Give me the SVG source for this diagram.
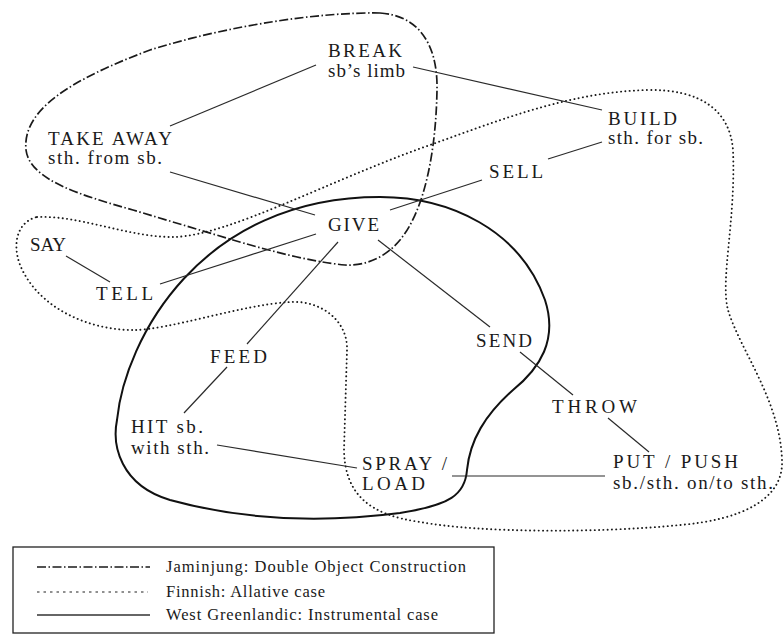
<svg xmlns="http://www.w3.org/2000/svg" width="783" height="635" viewBox="0 0 783 635">
<style>
  .lbl { font-family: "Liberation Serif", "Times New Roman", serif; font-size: 19px; fill: #1a1a1a; }
  .leg { font-family: "Liberation Serif", "Times New Roman", serif; font-size: 16.5px; fill: #1a1a1a; }
  .edge { stroke: #2a2a2a; stroke-width: 1.2; fill: none; }
  .jam { fill: none; stroke: #1a1a1a; stroke-width: 1.7; stroke-dasharray: 9 2.5 1.5 2.5; }
  .fin { fill: none; stroke: #1a1a1a; stroke-width: 1.9; stroke-dasharray: 0.1 4.2; stroke-linecap: round; }
  .wg { fill: none; stroke: #111; stroke-width: 2; }
</style>
<rect x="0" y="0" width="783" height="635" fill="#ffffff"/>

<g id="regions">
  <path id="region-jaminjung" class="jam" d="M 380,13 C 415,15 438,40 437,90 C 436,150 425,210 400,240 C 385,258 365,266 345,265 C 310,262 260,248 233,240 L 133,210 C 80,195 30,180 26,150 C 22,110 70,80 150,50 C 230,25 320,12 380,13 Z"/>
  <path id="region-finnish" class="fin" d="M 37,217 C 80,215 130,238 175,237 C 230,235 330,180 430,145 C 500,120 570,92 647,90 C 700,89 730,110 733,150 C 736,220 720,280 728,310 C 740,350 780,400 782,460 C 784,500 740,520 680,525 C 600,533 480,533 420,522 C 370,515 345,495 344,450 L 347,350 C 348,320 320,300 290,302 C 240,305 170,330 133,330 C 90,330 45,310 25,275 C 10,250 15,222 37,217 Z"/>
  <path id="region-westgreenlandic" class="wg" d="M 380,197 C 450,197 520,230 545,300 C 558,340 540,368 513,390 C 485,415 470,440 467,470 C 465,495 450,505 400,513 C 330,522 250,522 170,500 C 120,485 112,445 117,420 C 125,340 200,197 380,197 Z"/>
</g>

<g id="connectors">
  <line class="edge" x1="170" y1="126" x2="316" y2="65"/>
  <line class="edge" x1="413" y1="67" x2="602" y2="110"/>
  <line class="edge" x1="602" y1="142" x2="548" y2="159"/>
  <line class="edge" x1="482" y1="180" x2="390" y2="210"/>
  <line class="edge" x1="170" y1="172" x2="315" y2="215"/>
  <line class="edge" x1="66" y1="256" x2="110" y2="282"/>
  <line class="edge" x1="160" y1="284" x2="316" y2="234"/>
  <line class="edge" x1="338" y1="242" x2="247" y2="344"/>
  <line class="edge" x1="227" y1="367" x2="184" y2="413"/>
  <line class="edge" x1="217" y1="445" x2="357" y2="468"/>
  <line class="edge" x1="378" y1="240" x2="490" y2="327"/>
  <line class="edge" x1="520" y1="352" x2="573" y2="395"/>
  <line class="edge" x1="608" y1="418" x2="649" y2="452"/>
  <line class="edge" x1="452" y1="476" x2="605" y2="476"/>
</g>

<g id="node-break"><text class="lbl" x="328" y="57" textLength="74" lengthAdjust="spacing">BREAK</text><text class="lbl" x="328" y="77" textLength="77" lengthAdjust="spacing">sb’s limb</text></g>
<g id="node-takeaway"><text class="lbl" x="48" y="145" textLength="124" lengthAdjust="spacing">TAKE AWAY</text><text class="lbl" x="48" y="164" textLength="114" lengthAdjust="spacing">sth. from sb.</text></g>
<g id="node-build"><text class="lbl" x="608" y="125" textLength="69" lengthAdjust="spacing">BUILD</text><text class="lbl" x="608" y="144" textLength="95" lengthAdjust="spacing">sth. for sb.</text></g>
<g id="node-sell"><text class="lbl" x="489" y="178" textLength="54" lengthAdjust="spacing">SELL</text></g>
<g id="node-give"><text class="lbl" x="328" y="231" textLength="51" lengthAdjust="spacing">GIVE</text></g>
<g id="node-say"><text class="lbl" x="30" y="251" textLength="36" lengthAdjust="spacing">SAY</text></g>
<g id="node-tell"><text class="lbl" x="96" y="300" textLength="57" lengthAdjust="spacing">TELL</text></g>
<g id="node-feed"><text class="lbl" x="210" y="363" textLength="57" lengthAdjust="spacing">FEED</text></g>
<g id="node-send"><text class="lbl" x="476" y="347" textLength="56" lengthAdjust="spacing">SEND</text></g>
<g id="node-throw"><text class="lbl" x="552" y="413" textLength="85" lengthAdjust="spacing">THROW</text></g>
<g id="node-hit"><text class="lbl" x="131" y="433" textLength="72" lengthAdjust="spacing">HIT sb.</text><text class="lbl" x="131" y="454" textLength="78" lengthAdjust="spacing">with sth.</text></g>
<g id="node-sprayload"><text class="lbl" x="362" y="470" textLength="85" lengthAdjust="spacing">SPRAY /</text><text class="lbl" x="362" y="490" textLength="63" lengthAdjust="spacing">LOAD</text></g>
<g id="node-putpush"><text class="lbl" x="613" y="468" textLength="125" lengthAdjust="spacing">PUT / PUSH</text><text class="lbl" x="613" y="489" textLength="160" lengthAdjust="spacing">sb./sth. on/to sth.</text></g>

<g id="legend">
  <rect x="13" y="547" width="481" height="86" fill="none" stroke="#222" stroke-width="1.3"/>
  <line class="jam" x1="37" y1="567" x2="150" y2="567" style="stroke-width:1.3"/>
  <line x1="37" y1="592" x2="148" y2="592" fill="none" stroke="#222" stroke-width="1.2" stroke-dasharray="2.5 4"/>
  <line x1="37" y1="615" x2="150" y2="615" stroke="#333" stroke-width="1.3"/>
  <text class="leg" x="166" y="572" textLength="300" lengthAdjust="spacing">Jaminjung: Double Object Construction</text>
  <text class="leg" x="166" y="597" textLength="159" lengthAdjust="spacing">Finnish: Allative case</text>
  <text class="leg" x="166" y="620" textLength="272" lengthAdjust="spacing">West Greenlandic: Instrumental case</text>
</g>
</svg>
